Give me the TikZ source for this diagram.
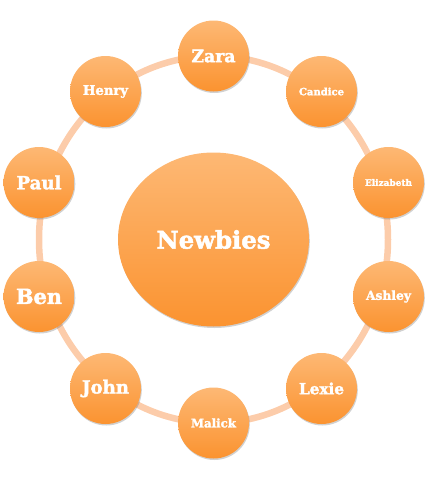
\documentclass[tikz,border=0pt]{standalone}
\usepackage{fontspec}
\setmainfont{DejaVu Serif}[BoldFeatures={FakeBold=2}]
\usetikzlibrary{shapes.geometric,shadows}
\definecolor{peach}{RGB}{252,204,170}
\definecolor{orangetop}{RGB}{253,184,116}
\definecolor{orangebot}{RGB}{251,147,48}
\newcommand{\fitname}[2]{\resizebox{#1pt}{!}{\bfseries #2}}
\begin{document}
\begin{tikzpicture}[
    x=1pt, y=-1pt,
    ring/.style={draw=peach, line width=6.5pt},
    member/.style={circle, minimum size=71pt, inner sep=0pt, text=white,
      top color=orangetop, bottom color=orangebot, draw=none,
      drop shadow={shadow xshift=0.8pt, shadow yshift=-1.5pt, opacity=0.3, fill=black!60}},
    hub/.style={ellipse, minimum width=191pt, minimum height=174pt, inner sep=0pt, text=white,
      top color=orangetop, bottom color=orangebot, draw=none,
      drop shadow={shadow xshift=0.8pt, shadow yshift=-1.5pt, opacity=0.3, fill=black!60}},
  ]
  \useasboundingbox (0,0) rectangle (427,479);

  % Ring behind the members
  \coordinate (centre) at (213.5,239.5);
  \draw[ring] (centre) ellipse [x radius=174.5pt, y radius=183.5pt];

  % Centre
  \node[hub] (newbies) at (centre) {\fitname{114}{Newbies}};

  % Members round the ring
  \node[member] (zara) at (213.5,56) {\fitname{44}{Zara}};
  \node[member] (candice) at (321.5,91.5) {\fitname{45}{Candice}};
  \node[member] (elizabeth) at (388.5,182.5) {\fitname{47}{Elizabeth}};
  \node[member] (ashley) at (388.5,296.5) {\fitname{45}{Ashley}};
  \node[member] (lexie) at (321.5,388.5) {\fitname{45}{Lexie}};
  \node[member] (malick) at (213.5,423) {\fitname{45}{Malick}};
  \node[member] (john) at (105.5,388.5) {\fitname{47}{John}};
  \node[member] (ben) at (39,296.5) {\fitname{46}{Ben}};
  \node[member] (paul) at (39,182.5) {\fitname{45}{Paul}};
  \node[member] (henry) at (105.5,91.5) {\fitname{45}{Henry}};
\end{tikzpicture}
\end{document}
